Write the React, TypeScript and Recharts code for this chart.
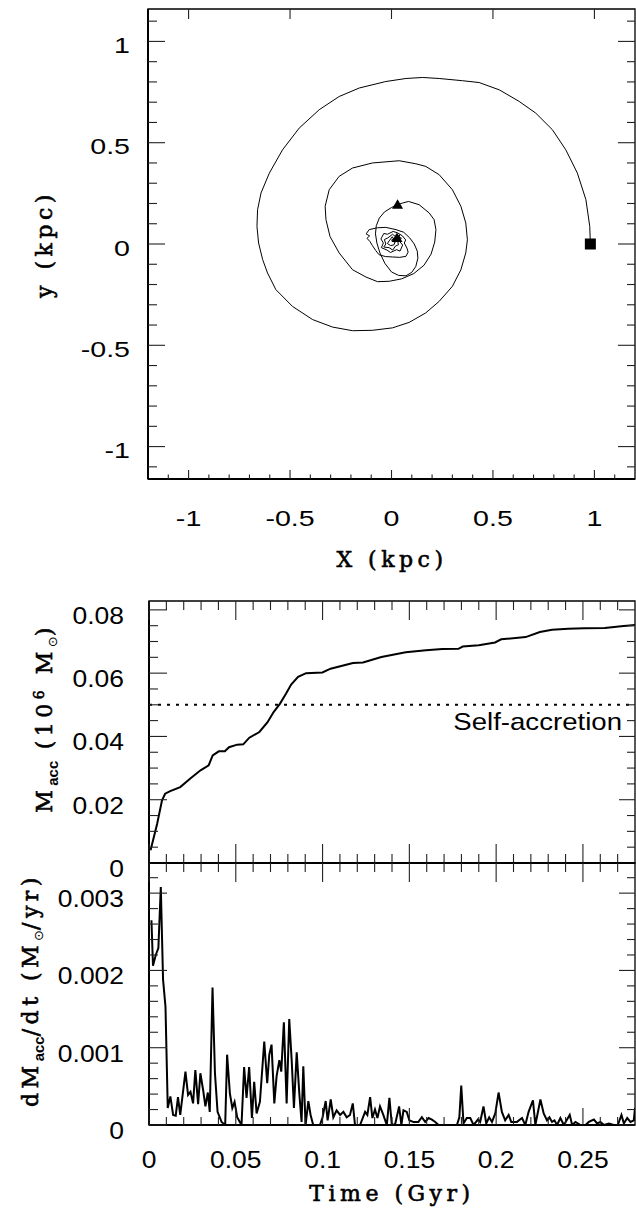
import React from 'react';
import {
  ScatterChart,
  Scatter,
  LineChart,
  Line,
  XAxis,
  YAxis,
  ReferenceArea,
  ReferenceLine,
  Label,
} from 'recharts';

// ---------------- data ----------------
const orbitX = [
  0.98, 0.977, 0.958, 0.916, 0.859, 0.793, 0.711, 0.629, 0.531, 0.432, 0.35, 0.235, 0.153, 0.071, -0.028,
  -0.159, -0.258, -0.356, -0.455, -0.537, -0.602, -0.643, -0.66, -0.663, -0.655, -0.635, -0.611, -0.57,
  -0.488, -0.389, -0.291, -0.192, -0.094, 0.005, 0.087, 0.169, 0.235, 0.3, 0.342, 0.366, 0.374, 0.366,
  0.342, 0.3, 0.235, 0.169, 0.12, 0.038, -0.094, -0.192, -0.258, -0.307, -0.327, -0.323, -0.303, -0.258,
  -0.192, -0.126, -0.069, -0.011, 0.05, 0.11, 0.16, 0.195, 0.213, 0.219, 0.21, 0.186, 0.136, 0.084, 0.054,
  0.03,
  0.0, -0.035, -0.06, -0.075, -0.079, -0.072, -0.057, -0.033, 0.0, 0.035, 0.071, 0.1, 0.12, 0.13, 0.127,
  0.112, 0.09, 0.06,
  0.022, -0.028, -0.07, -0.11, -0.125, -0.108, -0.121, -0.106, -0.094, -0.078, -0.061, -0.03, 0.005, 0.04,
  0.071, 0.082, 0.076, 0.063, 0.07, 0.054,
  0.03, 0.008, -0.02, -0.038, -0.052, -0.04, -0.05, -0.022, -0.005, 0.025, 0.042, 0.055, 0.04, 0.048,
  0.022, 0.005, -0.018, -0.035, -0.028, -0.038, -0.012, 0.006, 0.02, 0.034, 0.03, 0.012, 0.004, -0.012,
  -0.02, -0.004, 0.012, 0.018, 0.008, 0.0, 0.014, 0.03, 0.04, 0.036, 0.027,
];
const orbitY = [
  0.0, 0.087, 0.219, 0.35, 0.465, 0.564, 0.646, 0.704, 0.761, 0.797, 0.806, 0.817, 0.822, 0.817, 0.802,
  0.77, 0.728, 0.663, 0.572, 0.465, 0.35, 0.252, 0.169, 0.087, 0.005, -0.077, -0.143, -0.225, -0.308,
  -0.373, -0.41, -0.428, -0.426, -0.414, -0.387, -0.34, -0.283, -0.209, -0.127, -0.044, 0.021, 0.104,
  0.186, 0.268, 0.342, 0.383, 0.396, 0.411, 0.4, 0.375, 0.334, 0.268, 0.186, 0.12, 0.037, -0.044, -0.127,
  -0.163, -0.186, -0.184, -0.172, -0.146, -0.105, -0.05, 0.01, 0.071, 0.12, 0.153, 0.194, 0.21, 0.202,
  0.194,
  0.18, 0.158, 0.128, 0.09, 0.05, 0.005, -0.044, -0.095, -0.138, -0.155, -0.157, -0.14, -0.11, -0.07,
  -0.035, 0.0, 0.03, 0.058,
  0.071, 0.082, 0.08, 0.071, 0.05, 0.04, 0.028, 0.012, -0.008, -0.032, -0.053, -0.062, -0.064, -0.066,
  -0.061, -0.04, -0.02, 0.005, 0.02, 0.04,
  0.055, 0.062, 0.048, 0.052, 0.025, 0.005, -0.018, -0.03, -0.042, -0.028, -0.035, -0.005, 0.012, 0.03,
  0.035, 0.048, 0.03, 0.022, 0.0, -0.015, -0.018, -0.03, -0.01, -0.004, 0.018, 0.022, 0.036, 0.015,
  0.002, -0.008, -0.004, 0.01, 0.012, 0.02, 0.028, 0.036, 0.046, 0.022, 0.03,
];
const startMarkerX = [0.98];
const startMarkerY = [0.0];
const triangleMarkerX = [0.03, 0.027];
const triangleMarkerY = [0.194, 0.03];

const accTime = [
  0.0009, 0.0047, 0.0075, 0.0093, 0.0122, 0.018, 0.0238, 0.0297, 0.0344, 0.0367, 0.0402, 0.0437, 0.0461,
  0.0508, 0.0543, 0.0578, 0.0636, 0.0683, 0.0718, 0.0754, 0.0789, 0.0819, 0.0859, 0.0905, 0.0999, 0.1046,
  0.1175, 0.1233, 0.1339, 0.1479, 0.1596, 0.169, 0.1783, 0.1807, 0.19, 0.1994, 0.2029, 0.217, 0.2252,
  0.2322, 0.2415, 0.2509, 0.2626, 0.272, 0.28,
];
const accMass = [
  0.004, 0.0124, 0.0198, 0.0219, 0.0227, 0.024, 0.0267, 0.0293, 0.0309, 0.034, 0.0353, 0.0353, 0.0366,
  0.0374, 0.0375, 0.0396, 0.0414, 0.0445, 0.0477, 0.0503, 0.0535, 0.0564, 0.0588, 0.06, 0.0602, 0.0614,
  0.0632, 0.0634, 0.0651, 0.0666, 0.0672, 0.0676, 0.0677, 0.0684, 0.0688, 0.0697, 0.0707, 0.0714, 0.073,
  0.0737, 0.074, 0.0742, 0.0743, 0.0748, 0.0752,
];
const selfAccretion = 0.05;

const rateTime = [
  0.0014, 0.0023, 0.0039, 0.0054, 0.0068, 0.0081, 0.0095, 0.0108, 0.0123, 0.0139,
  0.0154, 0.0167, 0.018, 0.021, 0.0225, 0.0239, 0.0254, 0.0267, 0.0283, 0.0296,
  0.0312, 0.0325, 0.0339, 0.035, 0.0366, 0.038, 0.0395, 0.0418, 0.0439, 0.045,
  0.0466, 0.048, 0.0493, 0.0508, 0.0533, 0.0548, 0.0562, 0.0577, 0.0593, 0.0606,
  0.062, 0.0639, 0.0664, 0.0681, 0.0693, 0.0706, 0.0722, 0.0735, 0.0751, 0.0762,
  0.0777, 0.0793, 0.0808, 0.0822, 0.0835, 0.0851, 0.0866, 0.0879, 0.0889, 0.0902,
  0.0918, 0.0931, 0.0946, 0.0985, 0.1, 0.1018, 0.1029, 0.1047, 0.1062, 0.1081,
  0.1101, 0.112, 0.1139, 0.1158, 0.1174, 0.1187, 0.1216, 0.1245, 0.1258, 0.1274,
  0.1287, 0.1302, 0.1316, 0.1331, 0.135, 0.137, 0.1385,
  0.1399, 0.1418, 0.1441, 0.1454, 0.1466, 0.1485, 0.15, 0.1523, 0.1552, 0.1572, 0.1591, 0.1611, 0.163,
  0.1649, 0.1668, 0.1774, 0.1788, 0.1799, 0.1812, 0.1831, 0.1851, 0.187, 0.1895,
  0.1908, 0.1927, 0.1943, 0.196, 0.1976, 0.1995, 0.2014, 0.2033, 0.2052, 0.2072,
  0.2087, 0.212, 0.2149, 0.2168, 0.2187, 0.2212, 0.2226, 0.2255, 0.2274, 0.2293,
  0.2307, 0.2322, 0.2336, 0.2351, 0.237, 0.239, 0.2424, 0.2438, 0.2457, 0.2486,
  0.2515, 0.2534, 0.2563, 0.2582, 0.2601, 0.2621, 0.265, 0.2678, 0.2701, 0.2722,
  0.2736, 0.2755, 0.2774, 0.2793, 0.28,
];
const rateValue = [
  0.00265, 0.00206, 0.0022, 0.00229, 0.00308, 0.00188, 0.00153, 0.00022, 0.00037, 0.00013,
  0.00012, 0.00036, 0.00013, 0.00069, 0.00039, 0.00043, 0.00028, 0.00071, 0.00027, 0.00067,
  0.00045, 0.00024, 0.00042, 0.00017, 0.00178, 0.00067, 0.00017, 0.00004, 0, 0.00091,
  0.00041, 0.00022, 0.0003, 0.0001, 0, 0.00075, 0.00035, 0.00075, 0.00009, 0.00056,
  0.00015, 0.0003, 0.00108, 0.00054, 0.00091, 0.00104, 0.00028, 0.00063, 0.00084, 0.00069,
  0.00133, 0.00028, 0.00137, 0.00084, 0.00022, 0.00094, 0.00041, 0.00004, 0.00076, 0,
  0.00031, 0.00013, 0, 0, 0.0001, 0.00031, 0.00006, 0.00033, 0.0001, 0.00019,
  0.00013, 0.00017, 0.0001, 0.00013, 0.00028, 0, 0, 0.00017, 0.00013, 0.00036,
  0.00009, 0.0002, 0.00009, 0.00024, 0.00013, 0, 0.00035,
  0, 0.00001, 0.00024, 0, 0.00019, 0.00017, 0.00006, 0.00004, 0.00004, 0.0001, 0.00004, 0.00009, 0.00007,
  0.00004, 0, 0, 0.0001, 0.00051, 0.00002, 0.00009, 0.00009, 0, 0.00007,
  0.00004, 0.00024, 0.00002, 0.0001, 0.00004, 0.00015, 0.00042, 0.00017, 0.00006, 0.00013,
  0.00004, 0.00004, 0.00009, 0, 0.00017, 0.00032, 0, 0.00033, 0.00015, 0.00006,
  0.0001, 0.00004, 0.00006, 0, 0.00009, 0, 0.00013, 0, 0.00004, 0,
  0, 0.00004, 0.00007, 0.00002, 0.00004, 0, 0.00002, 0, 0, 0.00013,
  0.00002, 0.00009, 0.00004, 0.00006, 0.00022,
];

// ---------------- ticks ----------------
const orbitTicks = [
  -1.1, -1, -0.9, -0.8, -0.7, -0.6, -0.5, -0.4, -0.3, -0.2, -0.1, 0, 0.1, 0.2, 0.3, 0.4, 0.5, 0.6, 0.7,
  0.8, 0.9, 1, 1.1,
];
const orbitMajor = [-1, -0.5, 0, 0.5, 1];
const timeTicks = [
  0, 0.01, 0.02, 0.03, 0.04, 0.05, 0.06, 0.07, 0.08, 0.09, 0.1, 0.11, 0.12, 0.13, 0.14, 0.15, 0.16, 0.17,
  0.18, 0.19, 0.2, 0.21, 0.22, 0.23, 0.24, 0.25, 0.26, 0.27,
];
const timeMajor = [0, 0.05, 0.1, 0.15, 0.2, 0.25];
const massTicks = [
  0, 0.005, 0.01, 0.015, 0.02, 0.025, 0.03, 0.035, 0.04, 0.045, 0.05, 0.055, 0.06, 0.065, 0.07, 0.075, 0.08,
];
const massMajor = [0, 0.02, 0.04, 0.06, 0.08];
const rateTicks = [
  0, 0.0002, 0.0004, 0.0006, 0.0008, 0.001, 0.0012, 0.0014, 0.0016, 0.0018, 0.002, 0.0022, 0.0024, 0.0026,
  0.0028, 0.003, 0.0032,
];
const rateMajor = [0, 0.001, 0.002, 0.003];

// ---------------- helpers ----------------
const orbitData = orbitX.map((x, i) => ({ x, y: orbitY[i] }));
const startData = startMarkerX.map((x, i) => ({ x, y: startMarkerY[i] }));
const triData = triangleMarkerX.map((x, i) => ({ x, y: triangleMarkerY[i] }));
const accData = accTime.map((t, i) => ({ t, m: accMass[i] }));
const rateData = rateTime.map((t, i) => ({ t, r: rateValue[i] }));

const SANS = '"Liberation Sans", Arial, Helvetica, sans-serif';
const SERIF = '"DejaVu Serif", serif';
const TICK = '#222';

type Frame = { left: number; top: number; width: number; height: number };
type Spec = { a: number; b: number; c: number; d: number };
type Lab = { off: number; size: number; sx: number; anchorX?: number };

const isMajor = (v: number, majors: number[]) => majors.some((m) => Math.abs(m - v) < 1e-9);

function xTick(frame: Frame, majors: number[], s: Spec, lab?: Lab) {
  return (props: any) => {
    const x = props.x;
    const v = props.payload ? props.payload.value : 0;
    const maj = isMajor(v, majors);
    const bot = frame.top + frame.height;
    const top = frame.top;
    const lb = maj ? s.a : s.b;
    const lt = maj ? s.c : s.d;
    return (
      <g>
        {lb > 0 && <line x1={x} x2={x} y1={bot} y2={bot - lb} stroke={TICK} strokeWidth={1.1} />}
        {lt > 0 && <line x1={x} x2={x} y1={top} y2={top + lt} stroke={TICK} strokeWidth={1.1} />}
        {lab && maj && (
          <text
            transform={`translate(${x} ${bot + lab.off}) scale(${lab.sx} 1)`}
            textAnchor="middle"
            fontFamily={SANS}
            fontSize={lab.size}
            fill="#000"
          >
            {String(v)}
          </text>
        )}
      </g>
    );
  };
}

function yTick(frame: Frame, majors: number[], s: Spec, lab?: Lab) {
  return (props: any) => {
    const y = props.y;
    const v = props.payload ? props.payload.value : 0;
    const maj = isMajor(v, majors);
    const left = frame.left;
    const right = frame.left + frame.width;
    const ll = maj ? s.a : s.b;
    const lr = maj ? s.c : s.d;
    return (
      <g>
        {ll > 0 && <line x1={left} x2={left + ll} y1={y} y2={y} stroke={TICK} strokeWidth={1.1} />}
        {lr > 0 && <line x1={right} x2={right - lr} y1={y} y2={y} stroke={TICK} strokeWidth={1.1} />}
        {lab && maj && (
          <text
            transform={`translate(${lab.anchorX} ${y + lab.off}) scale(${lab.sx} 1)`}
            textAnchor="end"
            fontFamily={SANS}
            fontSize={lab.size}
            fill="#000"
          >
            {String(v)}
          </text>
        )}
      </g>
    );
  };
}

const Square = (p: any) => <rect x={p.cx - 5.5} y={p.cy - 5.5} width={11} height={11} fill="#000" />;
const Tri = (p: any) => (
  <path d={`M${p.cx},${p.cy - 5.5} L${p.cx + 5.5},${p.cy + 4} L${p.cx - 5.5},${p.cy + 4} Z`} fill="#000" />
);
const NoShape = () => <g />;

const TitleStyle = {
  fontFamily: SERIF,
  fontSize: 22,
  letterSpacing: 4.5,
  fill: '#000',
  stroke: '#000',
  strokeWidth: 0.6,
} as const;

const SelfLabel = (p: any) => {
  const vb = p.viewBox || { x: 0, y: 0, width: 0 };
  return (
    <text
      transform={`translate(${vb.x + vb.width - 13} ${vb.y + 25}) scale(1.15 1)`}
      textAnchor="end"
      fontFamily={SANS}
      fontSize={24}
      fill="#000"
    >
      Self-accretion
    </text>
  );
};

// ---------------- frames ----------------
const TOP: Frame = { left: 148, top: 9, width: 487, height: 470 };
const MID: Frame = { left: 149, top: 16, width: 486, height: 262 };
const BOT: Frame = { left: 149, top: 13, width: 486, height: 262 };

export default function App() {
  return (
    <div style={{ position: 'absolute', left: 0, top: 0, width: 636, height: 1210, background: '#fff' }}>
      {/* ---------- orbit panel ---------- */}
      <div style={{ position: 'absolute', left: 0, top: 0 }}>
        <ScatterChart width={636} height={600} margin={{ top: 9, right: 1, bottom: 0, left: 0 }}>
          <XAxis
            type="number"
            dataKey="x"
            domain={[-1.2, 1.2]}
            ticks={orbitTicks}
            interval={0}
            allowDataOverflow
            height={121}
            tickLine={false}
            axisLine={{ stroke: '#000', strokeWidth: 2 }}
            tick={xTick(TOP, orbitMajor, { a: 9, b: 4.5, c: 10, d: 0 }, { off: 47, size: 22, sx: 1.3 })}
          >
            <Label
              content={() => (
                <text x={392} y={567} textAnchor="middle" {...TitleStyle}>
                  X (kpc)
                </text>
              )}
            />
          </XAxis>
          <YAxis
            type="number"
            dataKey="y"
            domain={[-1.16, 1.16]}
            ticks={orbitTicks}
            interval={0}
            allowDataOverflow
            width={148}
            tickLine={false}
            axisLine={{ stroke: '#000', strokeWidth: 2 }}
            tick={yTick(TOP, orbitMajor, { a: 17, b: 9, c: 17, d: 8 }, { off: 11.5, size: 22, sx: 1.3, anchorX: 130 })}
          >
            <Label
              content={() => (
                <text transform="translate(52 244) rotate(-90)" textAnchor="middle" {...TitleStyle}>
                  y (kpc)
                </text>
              )}
            />
          </YAxis>
          <ReferenceArea x1={-1.2} x2={1.2} y1={-1.16} y2={1.16} fill="none" stroke="#000" strokeWidth={1.3} />
          <Scatter
            data={orbitData}
            line={{ stroke: '#000', strokeWidth: 1 }}
            lineType="joint"
            shape={NoShape}
            isAnimationActive={false}
          />
          <Scatter data={startData} shape={Square} isAnimationActive={false} />
          <Scatter data={triData} shape={Tri} isAnimationActive={false} />
        </ScatterChart>
      </div>

      {/* ---------- accreted mass panel ---------- */}
      <div style={{ position: 'absolute', left: 0, top: 585 }}>
        <LineChart width={636} height={300} data={accData} margin={{ top: 16, right: 1, bottom: 0, left: 0 }}>
          <XAxis
            type="number"
            dataKey="t"
            domain={[0, 0.28]}
            ticks={timeTicks}
            interval={0}
            allowDataOverflow
            height={22}
            tickLine={false}
            axisLine={{ stroke: '#000', strokeWidth: 2 }}
            tick={xTick(MID, timeMajor, { a: 19, b: 9, c: 19, d: 9 })}
          />
          <YAxis
            type="number"
            domain={[0, 0.0828]}
            ticks={massTicks}
            interval={0}
            allowDataOverflow
            width={149}
            tickLine={false}
            axisLine={{ stroke: '#000', strokeWidth: 2 }}
            tick={yTick(MID, massMajor, { a: 18, b: 9, c: 16, d: 8 }, { off: 14, size: 23, sx: 1.15, anchorX: 124 })}
          >
            <Label
              content={() => (
                <text transform="translate(52 133) rotate(-90)" textAnchor="middle" {...TitleStyle}>
                  M
                  <tspan dy={6} fontFamily={SANS} fontSize={15} fontWeight="bold" letterSpacing={0} strokeWidth={0}>
                    acc
                  </tspan>
                  <tspan dy={-6}> (10</tspan>
                  <tspan dy={-8} fontSize={14}>
                    6
                  </tspan>
                  <tspan dy={8}> M</tspan>
                  <tspan dy={5} fontFamily='"DejaVu Sans", sans-serif' fontSize={13} letterSpacing={0} strokeWidth={0}>
                    ⊙
                  </tspan>
                  <tspan dy={-5}>)</tspan>
                </text>
              )}
            />
          </YAxis>
          <ReferenceArea x1={0} x2={0.28} y1={0} y2={0.0828} fill="none" stroke="#000" strokeWidth={1.3} />
          <ReferenceLine
            y={selfAccretion}
            stroke="#000"
            strokeWidth={2}
            strokeDasharray="3 6"
            label={<SelfLabel />}
          />
          <Line
            type="linear"
            dataKey="m"
            stroke="#000"
            strokeWidth={2}
            dot={false}
            isAnimationActive={false}
          />
        </LineChart>
      </div>

      {/* ---------- accretion rate panel ---------- */}
      <div style={{ position: 'absolute', left: 0, top: 850 }}>
        <LineChart width={636} height={360} data={rateData} margin={{ top: 13, right: 1, bottom: 0, left: 0 }}>
          <XAxis
            type="number"
            dataKey="t"
            domain={[0, 0.28]}
            ticks={timeTicks}
            interval={0}
            allowDataOverflow
            height={85}
            tickLine={false}
            axisLine={{ stroke: '#000', strokeWidth: 2 }}
            tick={xTick(BOT, timeMajor, { a: 17, b: 8, c: 19, d: 9 }, { off: 43, size: 23, sx: 1.15 })}
          >
            <Label
              content={() => (
                <text x={392} y={351} textAnchor="middle" {...TitleStyle}>
                  Time (Gyr)
                </text>
              )}
            />
          </XAxis>
          <YAxis
            type="number"
            domain={[0, 0.00339]}
            ticks={rateTicks}
            interval={0}
            allowDataOverflow
            width={149}
            tickLine={false}
            axisLine={{ stroke: '#000', strokeWidth: 2 }}
            tick={yTick(BOT, rateMajor, { a: 18, b: 9, c: 16, d: 8 }, { off: 14, size: 23, sx: 1.15, anchorX: 124 })}
          >
            <Label
              content={() => (
                <text transform="translate(38 140) rotate(-90)" textAnchor="middle" {...TitleStyle}>
                  dM
                  <tspan dy={6} fontFamily={SANS} fontSize={15} fontWeight="bold" letterSpacing={0} strokeWidth={0}>
                    acc
                  </tspan>
                  <tspan dy={-6}>/dt (M</tspan>
                  <tspan dy={5} fontFamily='"DejaVu Sans", sans-serif' fontSize={13} letterSpacing={0} strokeWidth={0}>
                    ⊙
                  </tspan>
                  <tspan dy={-5}>/yr)</tspan>
                </text>
              )}
            />
          </YAxis>
          <ReferenceArea x1={0} x2={0.28} y1={0} y2={0.00339} fill="none" stroke="#000" strokeWidth={1.3} />
          <Line
            type="linear"
            dataKey="r"
            stroke="#000"
            strokeWidth={2}
            dot={false}
            isAnimationActive={false}
          />
        </LineChart>
      </div>
    </div>
  );
}
